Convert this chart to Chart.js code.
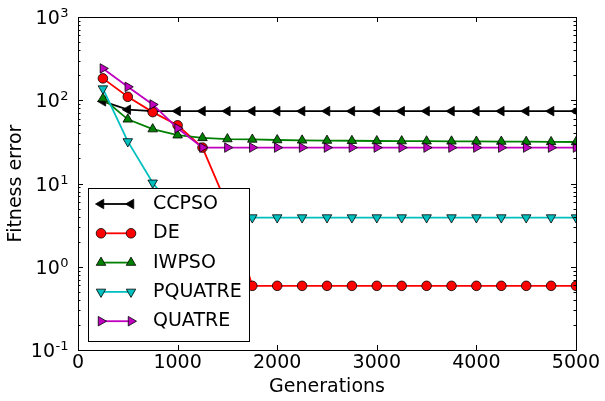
<!DOCTYPE html>
<html>
<head>
<meta charset="utf-8">
<script src="https://cdn.jsdelivr.net/npm/chart.js@4/dist/chart.umd.min.js"></script>
<style>
  body { margin: 0; background: #fff; }
  #wrap { width: 605px; height: 401px; }
</style>
</head>
<body>
<div id="wrap"><canvas id="chartCanvas" width="605" height="401"></canvas></div>
<script>
// === Dados ===
const generations = [250, 500, 750, 1000, 1250, 1500, 1750, 2000, 2250, 2500,
  2750, 3000, 3250, 3500, 3750, 4000, 4250, 4500, 4750, 5000];

const ccpso = [97, 77, 74, 74, 74, 74, 74, 74, 74, 74,
  74, 74, 74, 74, 74, 74, 74, 74, 74, 74];
const de = [183, 110, 72, 50, 27, 5.4, 0.59, 0.59, 0.59, 0.59,
  0.59, 0.59, 0.59, 0.59, 0.59, 0.59, 0.59, 0.59, 0.59, 0.59];
const iwpso = [105, 59, 45, 38, 35.3, 34.2, 33.8, 33.3, 33, 32.8,
  32.6, 32.4, 32.3, 32.2, 32.1, 32, 31.9, 31.8, 31.6, 31.5];
const pquatre = [138, 32, 10.2, 4.3, 3.9, 3.9, 3.9, 3.9, 3.9, 3.9,
  3.9, 3.9, 3.9, 3.9, 3.9, 3.9, 3.9, 3.9, 3.9, 3.9];
const quatre = [241, 145, 89, 46, 27, 27, 27, 27, 27, 27,
  27, 27, 27, 27, 27, 27, 27, 27, 27, 27];

const seriesNames = ["CCPSO", "DE", "IWPSO", "PQUATRE", "QUATRE"];
const seriesValues = [ccpso, de, iwpso, pquatre, quatre];

const xTickValues = [0, 1000, 2000, 3000, 4000, 5000];
const xTickLabels = ["0", "1000", "2000", "3000", "4000", "5000"];
const yTickValues = [0.1, 1, 10, 100, 1000];
const yTickBase = "10";
const yTickExponents = ["-1", "0", "1", "2", "3"];

// estilo de cada série (cor, marcador, rotação)
const styles = [
  { color: "#000000", point: "triangle", rot: -90, r: 5.5 },
  { color: "#ff0000", point: "circle", rot: 0, r: 4.8 },
  { color: "#008000", point: "triangle", rot: 0, r: 5.5 },
  { color: "#00bfbf", point: "triangle", rot: 180, r: 5.5 },
  { color: "#bf00bf", point: "triangle", rot: 90, r: 5.5 }
];

const FONT = "DejaVu Sans";

const datasets = seriesNames.map((name, i) => ({
  label: name,
  data: generations.map((g, j) => ({ x: g, y: seriesValues[i][j] })),
  borderColor: styles[i].color,
  backgroundColor: styles[i].color,
  borderWidth: 1.8,
  pointStyle: styles[i].point,
  pointRotation: styles[i].rot,
  pointRadius: styles[i].r,
  pointBorderColor: "#000",
  pointBorderWidth: 0.8,
  pointBackgroundColor: styles[i].color,
  tension: 0,
  order: seriesNames.length - i
}));

// ticks para dentro + moldura + rótulos 10^n
const frameTicks = {
  id: "frameTicks",
  afterDraw(chart) {
    const { ctx, chartArea: a, scales } = chart;
    const xs = scales.x, ys = scales.y;
    ctx.save();
    ctx.strokeStyle = "#000";
    ctx.lineWidth = 1;
    xTickValues.forEach(v => {
      const px = Math.round(xs.getPixelForValue(v)) + 0.5;
      ctx.beginPath();
      ctx.moveTo(px, a.bottom); ctx.lineTo(px, a.bottom - 5);
      ctx.moveTo(px, a.top); ctx.lineTo(px, a.top + 5);
      ctx.stroke();
    });
    for (let k = -1; k <= 2; k++) {
      for (let m = 1; m <= 9; m++) {
        const v = m * Math.pow(10, k);
        const py = Math.round(ys.getPixelForValue(v)) + 0.5;
        const len = m === 1 ? 5 : 2.5;
        ctx.beginPath();
        ctx.moveTo(a.left, py); ctx.lineTo(a.left + len, py);
        ctx.moveTo(a.right, py); ctx.lineTo(a.right - len, py);
        ctx.stroke();
      }
    }
    ctx.strokeRect(Math.round(a.left) + 0.5, Math.round(a.top) + 0.5,
      Math.round(a.right - a.left), Math.round(a.bottom - a.top));

    // rótulos do eixo y com expoente
    ctx.fillStyle = "#000";
    ctx.textAlign = "left";
    ctx.textBaseline = "alphabetic";
    const right = a.left - 10;
    yTickValues.forEach((v, i) => {
      const py = ys.getPixelForValue(v);
      ctx.font = "13px '" + FONT + "'";
      const ew = ctx.measureText(yTickExponents[i]).width;
      ctx.font = "19px '" + FONT + "'";
      const bw = ctx.measureText(yTickBase).width;
      const x0 = right - ew - bw;
      ctx.fillText(yTickBase, x0, py + 7);
      ctx.font = "13px '" + FONT + "'";
      ctx.fillText(yTickExponents[i], x0 + bw + 0.5, py);
    });
    ctx.restore();
  }
};

// legenda dentro do gráfico
const boxLegend = {
  id: "boxLegend",
  afterDraw(chart) {
    const ctx = chart.ctx;
    const bx = 88, by = 188, bw = 161, bh = 153;
    ctx.save();
    ctx.fillStyle = "#fff";
    ctx.fillRect(bx, by, bw, bh);
    ctx.strokeStyle = "#000";
    ctx.lineWidth = 1;
    ctx.strokeRect(bx + 0.5, by + 0.5, bw, bh);
    ctx.font = "19px '" + FONT + "'";
    ctx.textBaseline = "middle";
    seriesNames.forEach((name, i) => {
      const y = by + 16 + i * 29.3;
      const x1 = bx + 13, x2 = bx + 43;
      ctx.strokeStyle = styles[i].color;
      ctx.lineWidth = 1.8;
      ctx.beginPath();
      ctx.moveTo(x1, y); ctx.lineTo(x2, y);
      ctx.stroke();
      [x1, x2].forEach(px => {
        ctx.fillStyle = styles[i].color;
        ctx.strokeStyle = "#000";
        ctx.lineWidth = 0.8;
        Chart.helpers.drawPoint(ctx, {
          pointStyle: styles[i].point,
          rotation: styles[i].rot,
          radius: styles[i].r,
          borderWidth: 0.8
        }, px, y);
      });
      ctx.fillStyle = "#000";
      ctx.fillText(name, bx + 65, y);
    });
    ctx.restore();
  }
};

const chartInstance = new Chart(document.getElementById("chartCanvas"), {
  type: "line",
  data: { datasets },
  plugins: [frameTicks, boxLegend],
  options: {
    responsive: false,
    animation: false,
    layout: { padding: { top: 17, right: 29, left: 0, bottom: 0 } },
    plugins: {
      legend: { display: false },
      tooltip: { enabled: false }
    },
    scales: {
      x: {
        type: "linear",
        min: 0,
        max: 5000,
        afterBuildTicks: s => { s.ticks = xTickValues.map(v => ({ value: v })); },
        afterFit: s => { s.height = 51; },
        grid: { display: false, drawTicks: false },
        border: { display: false },
        ticks: {
          padding: 2,
          maxRotation: 0,
          color: "#000",
          font: { family: FONT, size: 19 },
          callback: (v, i) => xTickLabels[i]
        },
        title: {
          display: true,
          text: "Generations",
          color: "#000",
          font: { family: FONT, size: 19 },
          padding: { top: 0, bottom: 3 }
        }
      },
      y: {
        type: "logarithmic",
        min: 0.1,
        max: 1000,
        afterBuildTicks: s => { s.ticks = yTickValues.map(v => ({ value: v })); },
        afterFit: s => { s.width = 78; },
        grid: { display: false, drawTicks: false },
        border: { display: false },
        ticks: { display: false },
        title: {
          display: true,
          text: "Fitness error",
          color: "#000",
          font: { family: FONT, size: 19 },
          padding: { top: 5, bottom: 0 }
        }
      }
    }
  }
});
</script>
</body>
</html>
